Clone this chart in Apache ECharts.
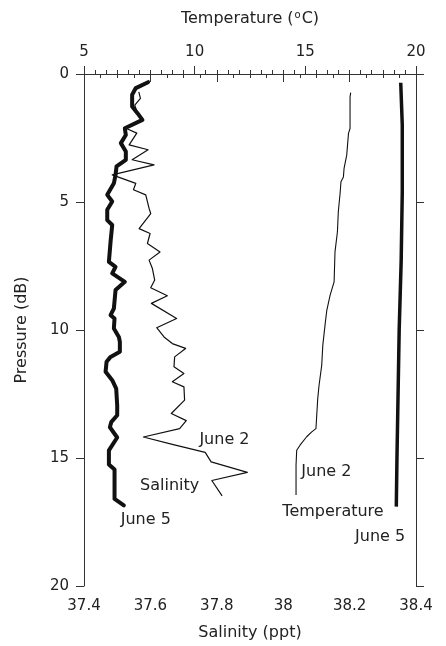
<!DOCTYPE html>
<html>
<head>
<meta charset="utf-8">
<script src="https://cdn.jsdelivr.net/npm/echarts@6/dist/echarts.min.js"></script>
<style>
  html, body { margin: 0; padding: 0; background: #fff; }
  #chart { width: 446px; height: 646px; }
</style>
</head>
<body>
<div id="chart"></div>
<script>
// Salinity profiles: [salinity (ppt), pressure (dB)]
const salinityJune2 = [
  [37.565, 0.70], [37.570, 0.95], [37.553, 1.22], [37.560, 1.50], [37.576, 1.79],
  [37.526, 2.12], [37.559, 2.31], [37.536, 2.77], [37.593, 2.96], [37.545, 3.35],
  [37.611, 3.55], [37.485, 3.94], [37.556, 4.27], [37.549, 4.52], [37.586, 4.72],
  [37.596, 5.25], [37.601, 5.45], [37.566, 6.04], [37.599, 6.23], [37.591, 6.62],
  [37.629, 6.95], [37.596, 7.27], [37.606, 7.60], [37.613, 8.05], [37.601, 8.35],
  [37.651, 8.66], [37.603, 8.96], [37.679, 9.55], [37.619, 9.91], [37.641, 10.27],
  [37.666, 10.53], [37.706, 10.72], [37.673, 11.05], [37.671, 11.44], [37.701, 11.70],
  [37.666, 12.02], [37.701, 12.22], [37.703, 12.74], [37.663, 13.26], [37.708, 13.54],
  [37.688, 13.85], [37.579, 14.18], [37.666, 14.47], [37.765, 14.78], [37.783, 15.15],
  [37.892, 15.56], [37.785, 15.88], [37.816, 16.48]
];
const salinityJune5 = [
  [37.593, 0.32], [37.556, 0.55], [37.545, 0.81], [37.545, 1.27], [37.561, 1.53],
  [37.576, 1.79], [37.523, 2.12], [37.526, 2.38], [37.511, 2.70], [37.526, 3.03],
  [37.526, 3.35], [37.498, 3.61], [37.495, 3.94], [37.490, 4.27], [37.470, 4.72],
  [37.485, 4.98], [37.470, 5.30], [37.470, 5.71], [37.485, 5.90], [37.480, 6.55],
  [37.475, 7.34], [37.495, 7.53], [37.485, 7.79], [37.523, 8.12], [37.495, 8.44],
  [37.490, 9.16], [37.480, 9.42], [37.492, 9.55], [37.490, 9.94], [37.505, 10.27],
  [37.508, 10.46], [37.508, 10.85], [37.480, 11.05], [37.468, 11.24], [37.465, 11.63],
  [37.485, 11.96], [37.497, 12.29], [37.500, 12.94], [37.500, 13.33], [37.482, 13.60],
  [37.478, 13.80], [37.500, 14.20], [37.475, 14.70], [37.475, 15.25], [37.492, 15.45],
  [37.492, 16.60], [37.520, 16.85]
];
// Temperature profiles: [temperature (°C), pressure (dB)]
const temperatureJune2 = [
  [17.05, 0.73], [17.02, 0.90], [17.02, 2.13], [16.95, 2.32], [16.87, 3.17],
  [16.75, 3.69], [16.72, 4.02], [16.61, 4.21], [16.57, 4.67], [16.49, 5.38],
  [16.45, 6.16], [16.34, 6.95], [16.30, 8.12], [16.12, 8.64], [15.97, 9.23],
  [15.89, 9.81], [15.79, 10.59], [15.74, 11.38], [15.62, 12.16], [15.56, 12.68],
  [15.48, 13.85], [15.29, 13.98], [15.06, 14.17], [14.76, 14.50], [14.61, 14.70],
  [14.58, 15.28], [14.58, 16.45]
];
const temperatureJune5 = [
  [19.31, 0.34], [19.38, 2.0], [19.38, 4.6], [19.33, 7.3], [19.24, 10.0],
  [19.18, 13.0], [19.14, 15.0], [19.11, 16.9]
];

// Axis ranges
const salinityRange = [37.4, 38.4];
const temperatureRange = [5, 20];
const pressureRange = [0, 20];

// Annotations, positioned in [salinity, pressure] coordinates
const annotations = [
  { text: 'June 2', at: [37.823, 14.30] },
  { text: 'Salinity', at: [37.658, 16.09] },
  { text: 'June 5', at: [37.586, 17.42] },
  { text: 'June 2', at: [38.130, 15.55] },
  { text: 'Temperature', at: [38.150, 17.11] },
  { text: 'June 5', at: [38.292, 18.09] }
];

const FONT = 'DejaVu Sans';
const INK = '#222';
const AXIS = '#333';

const chart = echarts.init(document.getElementById('chart'), null, { renderer: 'canvas' });

const axisLineStyle = { show: true, lineStyle: { color: AXIS, width: 1 } };

chart.setOption({
  animation: false,
  backgroundColor: '#fff',
  grid: { left: 84, right: 30, top: 74, bottom: 60 },
  xAxis: [
    {
      type: 'value', position: 'bottom',
      min: salinityRange[0], max: salinityRange[1], interval: 0.2,
      axisLine: axisLineStyle,
      axisTick: { show: true, length: 8, lineStyle: { color: AXIS } },
      minorTick: { show: true, splitNumber: 4, length: 4, lineStyle: { color: AXIS } },
      splitLine: { show: false },
      axisLabel: {
        margin: 13, color: INK, fontFamily: FONT, fontSize: 15,
        formatter: v => String(+v.toFixed(1))
      },
      name: 'Salinity (ppt)', nameLocation: 'middle', nameGap: 39,
      nameTextStyle: { color: INK, fontFamily: FONT, fontSize: 16 }
    },
    {
      type: 'value', position: 'top',
      min: temperatureRange[0], max: temperatureRange[1], interval: 5,
      axisLine: axisLineStyle,
      axisTick: { show: true, length: 8, lineStyle: { color: AXIS } },
      minorTick: { show: true, splitNumber: 10, length: 4, lineStyle: { color: AXIS } },
      splitLine: { show: false },
      axisLabel: { margin: 14, color: INK, fontFamily: FONT, fontSize: 15 },
      name: 'Temperature ({sup|o}C)', nameLocation: 'middle', nameGap: 46,
      nameTextStyle: {
        color: INK, fontFamily: FONT, fontSize: 16,
        rich: { sup: { color: INK, fontFamily: FONT, fontSize: 10, verticalAlign: 'top', padding: [0, 1, 8, 1] } }
      }
    }
  ],
  yAxis: [
    {
      type: 'value', position: 'left', inverse: true,
      min: pressureRange[0], max: pressureRange[1], interval: 5,
      axisLine: axisLineStyle,
      axisTick: { show: true, length: 8, lineStyle: { color: AXIS } },
      splitLine: { show: false },
      axisLabel: { margin: 15, color: INK, fontFamily: FONT, fontSize: 15 },
      name: 'Pressure (dB)', nameLocation: 'middle', nameGap: 54, nameRotate: 90,
      nameTextStyle: { color: INK, fontFamily: FONT, fontSize: 16 }
    },
    {
      type: 'value', position: 'right', inverse: true,
      min: pressureRange[0], max: pressureRange[1], interval: 5,
      axisLine: axisLineStyle,
      axisTick: { show: true, length: 8, lineStyle: { color: AXIS } },
      splitLine: { show: false },
      axisLabel: { show: false }
    }
  ],
  series: [
    {
      name: 'Salinity June 2', type: 'line', xAxisIndex: 0, yAxisIndex: 0,
      data: salinityJune2, symbol: 'none', smooth: false,
      lineStyle: { color: '#111', width: 1.2, join: 'round' }
    },
    {
      name: 'Salinity June 5', type: 'line', xAxisIndex: 0, yAxisIndex: 0,
      data: salinityJune5, symbol: 'none', smooth: false,
      lineStyle: { color: '#111', width: 4, join: 'round', cap: 'round' }
    },
    {
      name: 'Temperature June 2', type: 'line', xAxisIndex: 1, yAxisIndex: 0,
      data: temperatureJune2, symbol: 'none', smooth: false,
      lineStyle: { color: '#111', width: 1.1, join: 'round' }
    },
    {
      name: 'Temperature June 5', type: 'line', xAxisIndex: 1, yAxisIndex: 0,
      data: temperatureJune5, symbol: 'none', smooth: false,
      lineStyle: { color: '#111', width: 3.5, join: 'round' }
    }
  ]
});

// Place the text annotations through the salinity/pressure scales
chart.setOption({
  graphic: annotations.map(a => {
    const p = chart.convertToPixel({ xAxisIndex: 0, yAxisIndex: 0 }, a.at);
    return {
      type: 'text', x: p[0], y: p[1], z: 10,
      style: {
        text: a.text, fill: INK, font: '16px "' + FONT + '"',
        textAlign: 'center', textVerticalAlign: 'middle'
      }
    };
  })
});
</script>
</body>
</html>
